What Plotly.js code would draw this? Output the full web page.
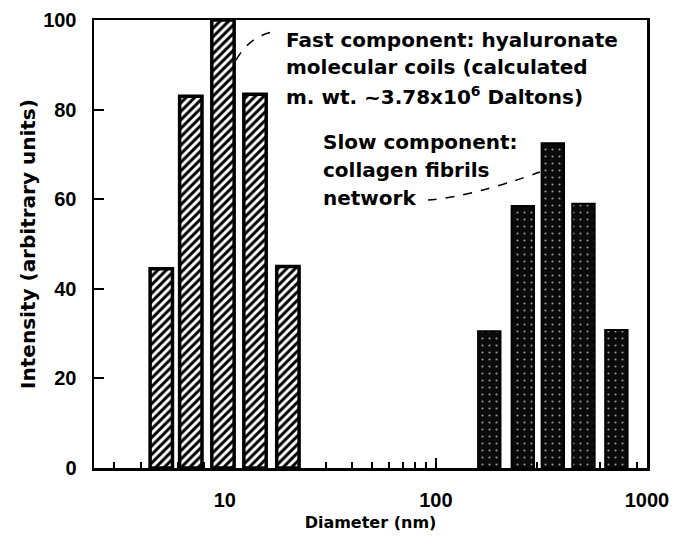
<!DOCTYPE html>
<html>
<head>
<meta charset="utf-8">
<script src="https://cdn.plot.ly/plotly-3.0.1.min.js"></script>
<style>html,body{margin:0;padding:0;background:#fff;}#chart{width:678px;height:537px;}</style>
</head>
<body>
<div id="chart"></div>
<script>
// Data
const fastDiameter = [5.0, 6.9, 9.8, 13.9, 19.9];
const fastIntensity = [44.5, 83, 100, 83.4, 45];
const slowDiameter = [179, 258, 358, 500, 716];
const slowIntensity = [30.5, 58.5, 72.5, 59, 30.8];
const xTickVals = [10, 100, 1000];
const xTickText = ['10', '100', '1000'];
const xMinorVals = [3, 4, 5, 6, 7, 8, 9, 20, 30, 40, 50, 60, 70, 80, 90, 200, 300, 400, 500, 600, 700, 800, 900];
const yTickVals = [0, 20, 40, 60, 80, 100];

// constant bar width on the log axis (in decades)
const halfLog = 0.053;
function barWidths(xs) { return xs.map(c => c * (Math.pow(10, halfLog) - Math.pow(10, -halfLog))); }
function barOffsets(xs) { return xs.map(c => c * Math.pow(10, -halfLog) - c); }

const tickFont = {family: 'Liberation Sans, Arial, sans-serif', size: 20, color: '#000', weight: 'bold'};
const textFont = {family: 'DejaVu Sans, sans-serif', size: 20, color: '#000', weight: 'bold'};

const traces = [
  {
    type: 'bar', x: fastDiameter, y: fastIntensity,
    width: barWidths(fastDiameter), offset: barOffsets(fastDiameter),
    marker: {color: '#fff', line: {color: '#000', width: 3.5},
      pattern: {shape: '/', fgcolor: '#000', bgcolor: '#fff', size: 6, solidity: 0.5}},
    hoverinfo: 'skip', showlegend: false
  },
  {
    type: 'bar', x: slowDiameter, y: slowIntensity,
    width: barWidths(slowDiameter), offset: barOffsets(slowDiameter),
    marker: {color: '#0a0a0a', line: {color: '#000', width: 2},
      pattern: {shape: '.', fgcolor: '#9a9a9a', bgcolor: '#0a0a0a', size: 7, solidity: 0.07}},
    hoverinfo: 'skip', showlegend: false
  }
];

function line(text, x, y) {
  return {text: text, x: x, y: y, xref: 'paper', yref: 'paper', xanchor: 'left', yanchor: 'middle',
    showarrow: false, font: textFont, align: 'left'};
}

const layout = {
  width: 678, height: 537,
  margin: {l: 94, r: 31, t: 20, b: 69},
  paper_bgcolor: '#fff', plot_bgcolor: '#fff',
  barmode: 'overlay',
  xaxis: {
    type: 'log', range: [Math.log10(2.4), 3],
    tickmode: 'array', tickvals: xTickVals, ticktext: xTickText,
    ticks: 'inside', ticklen: 10, tickwidth: 2, tickcolor: '#000',
    minor: {tickmode: 'array', tickvals: xMinorVals, ticks: 'inside', ticklen: 6, tickwidth: 2, tickcolor: '#000', showgrid: false},
    showline: true, linecolor: '#000', linewidth: 2.5, mirror: true,
    showgrid: false, zeroline: false, layer: 'below traces',
    tickfont: tickFont, ticklabelstandoff: 12,
    title: {text: 'Diameter (nm)', font: {family: 'DejaVu Sans, sans-serif', size: 16, color: '#000', weight: 'bold'}, standoff: 8}
  },
  yaxis: {
    range: [0, 100], tickmode: 'array', tickvals: yTickVals,
    ticks: 'inside', ticklen: 10, tickwidth: 2, tickcolor: '#000',
    showline: true, linecolor: '#000', linewidth: 2.5, mirror: true,
    showgrid: false, zeroline: false, layer: 'below traces',
    tickfont: tickFont, ticklabelstandoff: 11,
    title: {text: 'Intensity (arbitrary units)', font: textFont, standoff: 2}
  },
  annotations: [
    line('Fast component: hyaluronate', 0.3436, 0.955),
    line('molecular coils (calculated', 0.3436, 0.895),
    line('m. wt. ~3.78x10<sup>6</sup> Daltons)', 0.3436, 0.830),
    line('Slow component:', 0.4105, 0.7277),
    line('collagen fibrils', 0.4105, 0.665),
    line('network', 0.4105, 0.6027)
  ],
  shapes: [
    {type: 'path', xref: 'paper', yref: 'paper', path: 'M 0.2568 0.9107 Q 0.2821 0.9643 0.3237 0.9732',
      line: {color: '#000', width: 1.5, dash: 'dash'}},
    {type: 'path', xref: 'paper', yref: 'paper', path: 'M 0.604 0.598 Q 0.680 0.605 0.8065 0.6607',
      line: {color: '#000', width: 1.5, dash: 'dash'}}
  ]
};

Plotly.newPlot('chart', traces, layout, {displayModeBar: false, staticPlot: true});
</script>
</body>
</html>
